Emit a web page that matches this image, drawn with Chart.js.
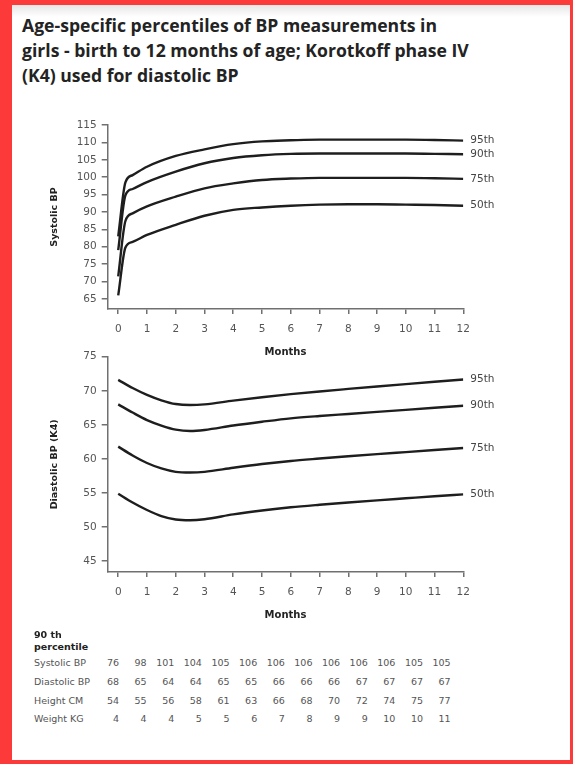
<!DOCTYPE html>
<html>
<head>
<meta charset="utf-8">
<script src="https://cdn.jsdelivr.net/npm/chart.js@4"></script>
<style>
  html, body { margin:0; padding:0; background:#fff; }
  body { position:relative; width:573px; height:764px; overflow:hidden; font-family:"DejaVu Sans", sans-serif; }
  #frame { position:absolute; left:0; top:0; width:573px; height:764px; box-sizing:border-box;
           border-style:solid; border-color:#fd3a3a; border-width:5px 3px 4px 12px; pointer-events:none; z-index:5; }
  #shade { position:absolute; left:12px; top:5px; width:558px; height:12px;
           background:linear-gradient(#e6e6e6, #fff); }
  #title { position:absolute; left:22px; top:13px; font-family:"Open Sans", sans-serif; font-weight:700;
           font-size:17.6px; line-height:25px; color:#232323; white-space:nowrap; }
  canvas { position:absolute; left:0; }
  #sysChart { top:112px; }
  #diaChart { top:340px; }
  #table { position:absolute; left:0; top:0; width:573px; font-size:9.5px; color:#555; }
  .hdr { position:absolute; left:34px; font-weight:bold; color:#222; line-height:12px; white-space:nowrap; }
  .lab { position:absolute; left:34px; line-height:12px; white-space:nowrap; }
  .val { position:absolute; width:27.6px; text-align:right; line-height:12px; }
</style>
</head>
<body>
<div id="shade"></div>
<div id="title">Age-specific percentiles of BP measurements in<br>girls - birth to 12 months of age; Korotkoff phase IV<br>(K4) used for diastolic BP</div>
<canvas id="sysChart" width="573" height="254"></canvas>
<canvas id="diaChart" width="573" height="289"></canvas>
<div id="table"></div>
<div id="frame"></div>

<script>
/* ---------- data ---------- */
const percentiles = ['95th', '90th', '75th', '50th'];
const monthTicks  = [0,1,2,3,4,5,6,7,8,9,10,11,12];
const sysTicks    = [65,70,75,80,85,90,95,100,105,110,115];
const diaTicks    = [45,50,55,60,65,70,75];

// systolic curves
const sysMonths = [0, 0.25, 0.5, 1, 2, 3, 4, 5, 6, 7, 8, 9, 10, 11, 12];
const sys95 = [83.0, 98.5, 100.6, 103.0, 106.1, 108.0, 109.5, 110.3, 110.6, 110.8, 110.8, 110.8, 110.8, 110.7, 110.5];
const sys90 = [79.0, 94.8, 96.6, 98.6, 101.6, 104.0, 105.5, 106.3, 106.7, 106.8, 106.8, 106.8, 106.8, 106.7, 106.6];
const sys75 = [71.5, 87.4, 89.6, 91.6, 94.4, 96.8, 98.2, 99.2, 99.6, 99.8, 99.8, 99.8, 99.8, 99.7, 99.5];
const sys50 = [66.0, 79.8, 81.4, 83.4, 86.3, 88.9, 90.6, 91.3, 91.8, 92.1, 92.2, 92.2, 92.1, 92.0, 91.8];

// diastolic (K4) curves
const diaMonths = [0, 0.5, 1, 1.5, 2, 2.5, 3, 4, 5, 6, 7, 8, 9, 10, 11, 12];
const dia95 = [71.6, 70.4, 69.4, 68.6, 68.05, 67.9, 68.0, 68.55, 69.05, 69.5, 69.9, 70.27, 70.63, 70.98, 71.32, 71.65];
const dia90 = [68.0, 66.8, 65.7, 64.9, 64.3, 64.1, 64.25, 64.9, 65.45, 65.95, 66.3, 66.6, 66.9, 67.2, 67.5, 67.8];
const dia75 = [61.8, 60.5, 59.4, 58.6, 58.1, 58.0, 58.1, 58.7, 59.25, 59.7, 60.05, 60.38, 60.7, 61.0, 61.3, 61.6];
const dia50 = [54.9, 53.6, 52.5, 51.6, 51.1, 51.0, 51.15, 51.85, 52.42, 52.9, 53.27, 53.6, 53.92, 54.22, 54.52, 54.8];

// 90th percentile table
const tableHeader = ['90 th', 'percentile'];
const rowLabels   = ['Systolic BP', 'Diastolic BP', 'Height CM', 'Weight KG'];
const systolicRow = [76, 98, 101, 104, 105, 106, 106, 106, 106, 106, 106, 105, 105];
const diastolicRow= [68, 65, 64, 64, 65, 65, 66, 66, 66, 67, 67, 67, 67];
const heightRow   = [54, 55, 56, 58, 61, 63, 66, 68, 70, 72, 74, 75, 77];
const weightRow   = [4, 4, 4, 5, 5, 6, 7, 8, 9, 9, 10, 10, 11];

/* ---------- helpers ---------- */
const AXIS = '#707070';
const TICK_FONT = { family:'DejaVu Sans', size:10.5 };

const endLabels = {
  id: 'endLabels',
  afterDatasetsDraw(chart) {
    const ctx = chart.ctx;
    ctx.save();
    ctx.font = '10.5px "DejaVu Sans"';
    ctx.fillStyle = '#444';
    ctx.textBaseline = 'middle';
    chart.data.datasets.forEach((ds, i) => {
      const pts = chart.getDatasetMeta(i).data;
      const p = pts[pts.length - 1];
      ctx.fillText(ds.label, p.x + 7, p.y);
    });
    ctx.restore();
  }
};

function toPoints(xs, ys) { return xs.map((x, i) => ({ x, y: ys[i] })); }

function makeChart(id, months, series, yMin, yMax, yTicks, yTitle, padTop) {
  return new Chart(document.getElementById(id), {
    type: 'line',
    data: {
      datasets: series.map((vals, i) => ({
        label: percentiles[i],
        data: toPoints(months, vals),
        borderColor: '#1e1e1e',
        borderWidth: 2.4,
        pointRadius: 0,
        fill: false,
        cubicInterpolationMode: 'monotone'
      }))
    },
    options: {
      responsive: false,
      animation: false,
      devicePixelRatio: 1,
      layout: { padding: { left: 44.6, right: 109.7, top: padTop, bottom: 4 } },
      plugins: { legend: { display: false }, tooltip: { enabled: false } },
      scales: {
        x: {
          type: 'linear', min: -0.366, max: 12,
          afterBuildTicks: s => { s.ticks = monthTicks.map(v => ({ value: v })); },
          afterFit: s => { s.height = 53; },
          ticks: { font: TICK_FONT, color: '#555', padding: 9, maxRotation: 0, autoSkip: false },
          grid: { drawOnChartArea: false, drawTicks: true, tickLength: 5, color: AXIS, lineWidth: 1.5 },
          border: { color: AXIS, width: 1.5 },
          title: { display: true, text: 'Months', color: '#222',
                   font: { family:'DejaVu Sans', size:10, weight:'bold' }, padding: 4 }
        },
        y: {
          type: 'linear', min: yMin, max: yMax,
          afterBuildTicks: s => { s.ticks = yTicks.map(v => ({ value: v })); },
          afterFit: s => { s.width = 63.1; },
          ticks: { font: TICK_FONT, color: '#555', padding: 5, autoSkip: false },
          grid: { drawOnChartArea: false, drawTicks: true, tickLength: 6, color: AXIS, lineWidth: 1.5 },
          border: { color: AXIS, width: 1.5 },
          title: { display: true, text: yTitle, color: '#222',
                   font: { family:'DejaVu Sans', size:9.5, weight:'bold' }, padding: { top: 4, bottom: 4 } }
        }
      }
    },
    plugins: [endLabels]
  });
}

makeChart('sysChart', sysMonths, [sys95, sys90, sys75, sys50], 62.1, 115, sysTicks, 'Systolic BP', 13);
makeChart('diaChart', diaMonths, [dia95, dia90, dia75, dia50], 43.4, 75, diaTicks, 'Diastolic BP (K4)', 16.7);

/* ---------- table ---------- */
function buildTable() {
  const box = document.getElementById('table');
  tableHeader.forEach((t, i) => {
    const d = document.createElement('div');
    d.className = 'hdr';
    d.style.top = (629 + i * 12) + 'px';
    d.textContent = t;
    box.appendChild(d);
  });
  const rows = [systolicRow, diastolicRow, heightRow, weightRow];
  rows.forEach((row, r) => {
    const top = 657.3 + r * 18.67;
    const lab = document.createElement('div');
    lab.className = 'lab';
    lab.style.top = top + 'px';
    lab.textContent = rowLabels[r];
    box.appendChild(lab);
    row.forEach((v, c) => {
      const d = document.createElement('div');
      d.className = 'val';
      d.style.top = top + 'px';
      d.style.left = (91.4 + c * 27.64) + 'px';
      d.textContent = v;
      box.appendChild(d);
    });
  });
}
buildTable();
</script>
</body>
</html>
